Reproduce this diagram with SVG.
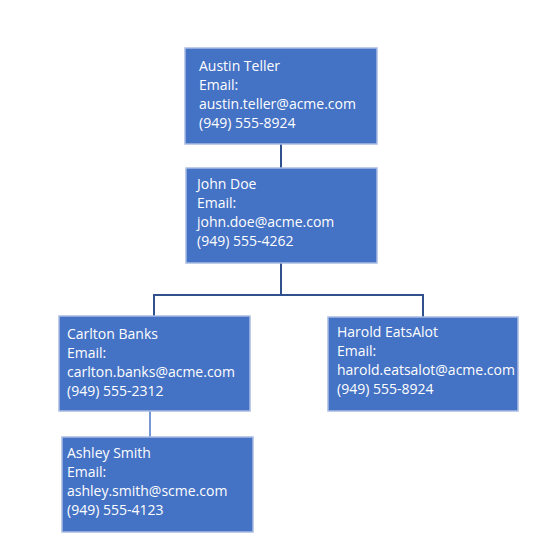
<svg xmlns="http://www.w3.org/2000/svg" width="551" height="555" viewBox="0 0 551 555">
<style>
.box{fill:#4472C4;stroke:#A9BCE3;stroke-width:1.5}
.t{font-family:"Open Sans","Liberation Sans",sans-serif;font-size:14px;fill:#FFFFFF}
.c{fill:none;stroke:#2F528F;stroke-width:2}
</style>
<rect width="551" height="555" fill="#FFFFFF"/>
<g id="connectors">
<path class="c" d="M281 144 V168"/>
<path class="c" d="M281 263 V295 M154 295 H423 M154 294 V316 M423 294 V317"/>
<path class="c" d="M150 411 V437" style="stroke:#4A76C6;stroke-width:1.5"/>
</g>
<g id="austin">
<rect class="box" x="185" y="48" width="192" height="96"/>
<text class="t" x="199" y="71">Austin Teller</text>
<text class="t" x="199" y="90">Email:</text>
<text class="t" x="199" y="109">austin.teller@acme.com</text>
<text class="t" x="199" y="128">(949) 555-8924</text>
</g>
<g id="john">
<rect class="box" x="186" y="168" width="191" height="95"/>
<text class="t" x="197" y="189">John Doe</text>
<text class="t" x="197" y="208">Email:</text>
<text class="t" x="197" y="227">john.doe@acme.com</text>
<text class="t" x="197" y="246">(949) 555-4262</text>
</g>
<g id="carlton">
<rect class="box" x="59" y="316" width="191" height="95"/>
<text class="t" x="67" y="339">Carlton Banks</text>
<text class="t" x="67" y="358">Email:</text>
<text class="t" x="67" y="377">carlton.banks@acme.com</text>
<text class="t" x="67" y="396">(949) 555-2312</text>
</g>
<g id="harold">
<rect class="box" x="328" y="317" width="190" height="94"/>
<text class="t" x="337" y="337">Harold EatsAlot</text>
<text class="t" x="337" y="356">Email:</text>
<text class="t" x="337" y="375">harold.eatsalot@acme.com</text>
<text class="t" x="337" y="394">(949) 555-8924</text>
</g>
<g id="ashley">
<rect class="box" x="62" y="437" width="191" height="95"/>
<text class="t" x="67" y="458">Ashley Smith</text>
<text class="t" x="67" y="477">Email:</text>
<text class="t" x="67" y="496">ashley.smith@scme.com</text>
<text class="t" x="67" y="515">(949) 555-4123</text>
</g>
</svg>
